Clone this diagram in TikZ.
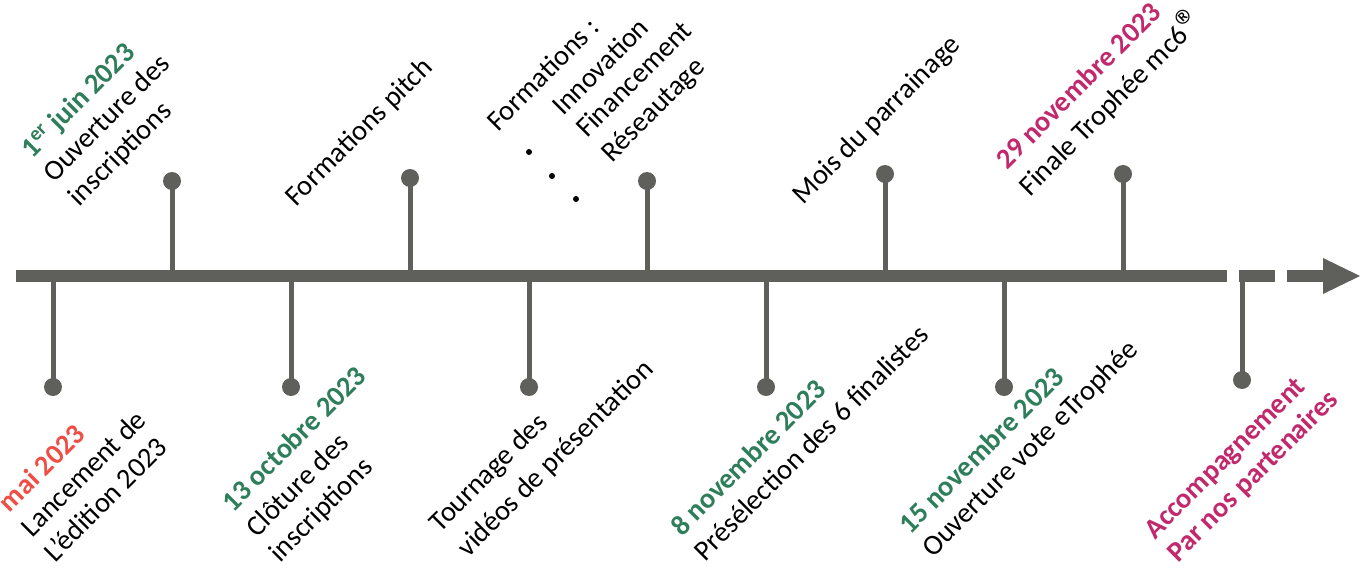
\documentclass[tikz,border=0pt]{standalone}
\usepackage{fontspec}
\usepackage{graphicx}
\setmainfont{Carlito}
\definecolor{axisgray}{HTML}{5F605B}
\definecolor{dategreen}{HTML}{2E7D5B}
\definecolor{datepink}{HTML}{C2286C}
\definecolor{datered}{HTML}{F04E45}
\tikzset{
  lbl/.style={rotate=45, anchor=base west, inner sep=0pt, outer sep=0pt,
    font=\fontsize{28.5}{34}\selectfont, text=black},
  datelbl/.style={lbl, font=\fontsize{28.5}{34}\selectfont\bfseries},
  dotnode/.style={circle, fill=axisgray, minimum size=18pt, inner sep=0pt},
  stem/.style={draw=axisgray, line width=5pt},
  axisline/.style={draw=axisgray, line width=12pt},
  bullet/.style={circle, fill=black, minimum size=6pt, inner sep=0pt}
}
\begin{document}
\begin{tikzpicture}[x={(1pt,0)}, y={(0,-1pt)}]
\useasboundingbox (0,0) rectangle (1362,583);
% axis
\coordinate (ax0) at (16,276);
\coordinate (ax1) at (1227,276);
\coordinate (ds1) at (1239,276);
\coordinate (de1) at (1275,276);
\coordinate (ds2) at (1287,276);
\coordinate (de2) at (1324,276);
\draw[axisline] (ax0) -- (ax1);
\draw[axisline] (ds1) -- (de1);
\draw[axisline] (ds2) -- (de2);
\coordinate (t1) at (1323,258);
\coordinate (t2) at (1323,294);
\coordinate (t3) at (1360,276);
\fill[axisgray] (t1) -- (t3) -- (t2) -- cycle;
% upward stems
\foreach \n/\x/\y in {u1/172/181, u2/410/178, u3/647/181, u4/885/174, u5/1123/174}{
  \coordinate (a\n) at (\x,276);
  \node[dotnode] (\n) at (\x,\y) {};
  \draw[stem] (a\n) -- (\n.center);
}
% downward stems
\foreach \n/\x/\y in {d1/53/387, d2/291/387, d3/529/387, d4/766/387, d5/1004/387}{
  \coordinate (a\n) at (\x,276);
  \node[dotnode] (\n) at (\x,\y) {};
  \draw[stem] (a\n) -- (\n.center);
}
\coordinate (ad6) at (1242,270);
\node[dotnode] (d6) at (1242,380) {};
\draw[stem] (ad6) -- (d6.center);
% top labels
\node[datelbl, text=dategreen] (l1a) at (32,159) {1\textsuperscript{er} juin 2023};
\node[lbl] (l1b) at (54,183) {Ouverture des};
\node[lbl] (l1c) at (79,207) {inscriptions};
\node[lbl] (l2a) at (296,207) {Formations pitch};
\node[lbl] (l3a) at (498,132) {Formations :};
\node[lbl] (l3b) at (563,117) {Innovation};
\node[lbl] (l3c) at (587,139) {Financement};
\node[lbl] (l3d) at (612,163) {Réseautage};
\node[bullet] (b1) at (529,152) {};
\node[bullet] (b2) at (552,176) {};
\node[bullet] (b3) at (576,199) {};
\node[lbl] (l4a) at (803,205) {Mois du parrainage};
\node[datelbl, text=datepink] (l5a) at (1007,170) {29 novembre 2023};
\node[lbl] (l5b) at (1030,197) {Finale Trophée mc6\kern1pt\raisebox{-6pt}{\scalebox{1.6}{®}}};
% bottom labels
\node[datelbl, text=datered] (m1a) at (10,513) {mai 2023};
\node[lbl] (m1b) at (32,538) {Lancement de};
\node[lbl] (m1c) at (55,563) {L’édition 2023};
\node[datelbl, text=dategreen] (m2a) at (233,513) {13 octobre 2023};
\node[lbl] (m2b) at (257,538) {Clôture des};
\node[lbl] (m2c) at (280,563) {inscriptions};
\node[lbl] (m3a) at (440,533) {Tournage des};
\node[lbl] (m3b) at (468,558) {vidéos de présentation};
\node[datelbl, text=dategreen] (m4a) at (682,537) {8 novembre 2023};
\node[lbl] (m4b) at (705,562) {Présélection des 6 finalistes};
\node[datelbl, text=dategreen] (m5a) at (910,535) {15 novembre 2023};
\node[lbl] (m5b) at (933,558) {Ouverture vote eTrophée};
\node[datelbl, text=datepink] (m6a) at (1155,540) {Accompagnement};
\node[datelbl, text=datepink] (m6b) at (1178,563) {Par nos partenaires};
\end{tikzpicture}
\end{document}
